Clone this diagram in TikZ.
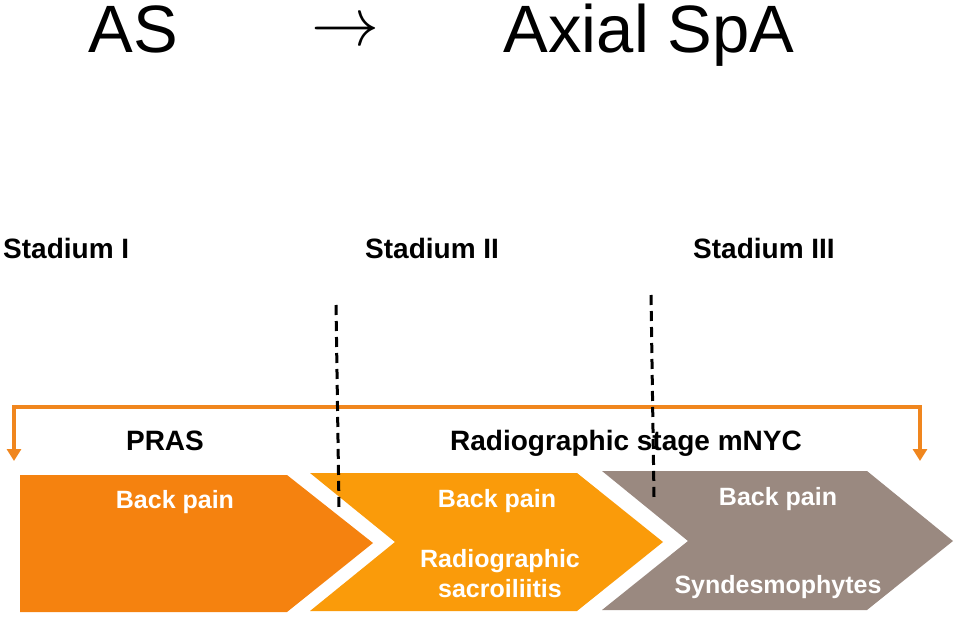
\documentclass[tikz,border=0pt]{standalone}
\usepackage{fontspec}
\setmainfont{Liberation Sans}
\usepackage{graphicx}
\usepackage{xcolor}
\usepackage{tikz}
\usetikzlibrary{arrows.meta}
\definecolor{stageone}{RGB}{245,130,15}
\definecolor{stagetwo}{RGB}{250,155,10}
\definecolor{stagethree}{RGB}{154,137,128}
\definecolor{bracketorange}{RGB}{240,134,30}
\tikzset{bigtxt/.style={font=\fontsize{67}{70}\selectfont,inner sep=0pt},
         stadtxt/.style={font=\bfseries\fontsize{28}{32}\selectfont,inner sep=0pt},
         boxtxt/.style={font=\bfseries\fontsize{25}{29}\selectfont,text=white,inner sep=0pt},
         divider/.style={black,line width=3pt,dash pattern=on 10pt off 6pt}}

\begin{document}
\begin{tikzpicture}[x=1pt,y=-1pt,>={Stealth[inset=0pt,width=14pt,length=12pt]}]
    \useasboundingbox (0,0) rectangle (959,618);

    % title
    \node[bigtxt,anchor=base] (as) at (133,53) {AS};
    \node[inner sep=0pt] (arr) at (345,33) {\resizebox{68pt}{!}{$\rightarrow$}};
    \node[bigtxt,anchor=base] (axial) at (649,53) {Axial SpA};

    % stages
    \node[stadtxt,anchor=base west] (st1) at (3,258) {Stadium I};
    \node[stadtxt,anchor=base west] (st2) at (365,258) {Stadium II};
    \node[stadtxt,anchor=base west] (st3) at (693,258) {Stadium III};

    % chevrons
    \fill[stageone] (20,475) -- (287,475) -- (373,543) -- (287,612) -- (20,612) -- cycle;
    \fill[stagetwo] (310,473) -- (577,473) -- (663,542) -- (577,611) -- (310,611) -- (395,542) -- cycle;
    \fill[stagethree] (602,471) -- (867,471) -- (953,541) -- (867,610) -- (602,610) -- (688,541) -- cycle;

    \node[boxtxt,anchor=base] (bp1) at (175,508) {Back pain};
    \node[boxtxt,anchor=base] (bp2) at (497,507) {Back pain};
    \node[boxtxt,anchor=base] (rad) at (500,567) {Radiographic};
    \node[boxtxt,anchor=base] (sac) at (500,597) {sacroiliitis};
    \node[boxtxt,anchor=base] (bp3) at (778,505) {Back pain};
    \node[boxtxt,anchor=base] (syn) at (778,593) {Syndesmophytes};

    % bracket
    \node[stadtxt,anchor=base] (pras) at (165,450) {PRAS};
    \node[stadtxt,anchor=base] (mnyc) at (626,450) {Radiographic stage mNYC};
    \coordinate (bl) at (14,461);
    \coordinate (tl) at (14,407);
    \coordinate (tr) at (920,407);
    \coordinate (br) at (920,461);
    \draw [<->,bracketorange,line width=4pt] (bl) -- (tl) -- (tr) -- (br);

    % dividers
    \coordinate (d1top) at (336,305);
    \coordinate (d1bot) at (339,507);
    \coordinate (d2top) at (651,295);
    \coordinate (d2bot) at (654,497);
    \draw [divider] (d1top) -- (d1bot);
    \draw [divider] (d2top) -- (d2bot);
\end{tikzpicture}
\end{document}
